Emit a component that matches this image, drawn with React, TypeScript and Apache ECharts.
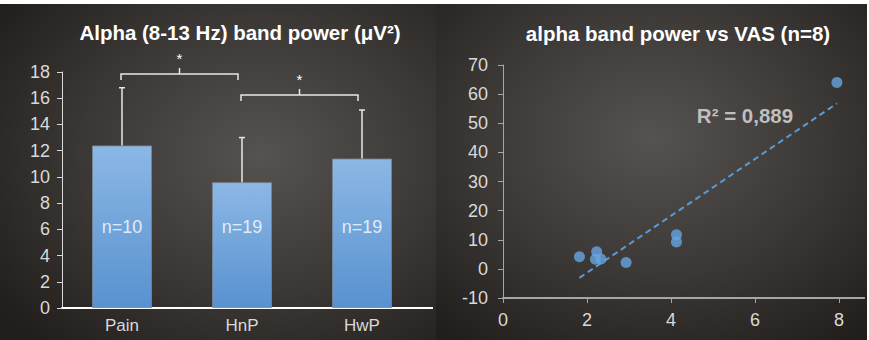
import React, { useEffect, useRef } from "react";
import * as echarts from "echarts";

const categories = ["Pain", "HnP", "HwP"];
const meanValues = [12.4, 9.6, 11.4];
const errorTops = [16.8, 13.0, 15.1];
const nLabels = ["n=10", "n=19", "n=19"];
const nLabelLevel = 6.2;
const sigBrackets = [
  { from: 0, to: 1, y: 17.85 },
  { from: 1, to: 2, y: 16.25 },
];

const scatterX = [7.95, 1.82, 2.23, 2.2, 2.33, 2.93, 4.13, 4.13];
const scatterY = [64, 4.2, 5.9, 3.3, 3.4, 2.2, 11.7, 9.2];
const r2Text = "R² = 0,889";

const FONT = "'Liberation Sans', Arial, sans-serif";

function regression(xs: number[], ys: number[]) {
  const n = xs.length;
  const mx = xs.reduce((a, b) => a + b, 0) / n;
  const my = ys.reduce((a, b) => a + b, 0) / n;
  let sxy = 0;
  let sxx = 0;
  for (let i = 0; i < n; i++) {
    sxy += (xs[i] - mx) * (ys[i] - my);
    sxx += (xs[i] - mx) * (xs[i] - mx);
  }
  const slope = sxy / sxx;
  const intercept = my - slope * mx;
  const x0 = Math.min(...xs);
  const x1 = Math.max(...xs);
  return [
    [x0, intercept + slope * x0],
    [x1, intercept + slope * x1],
  ];
}

export default function App() {
  const ref = useRef<HTMLDivElement>(null);
  useEffect(() => {
    document.body.style.margin = "0";
    const chart = echarts.init(ref.current!, null, { renderer: "svg" });
    const bg = (cx: number, cy: number) =>
      new echarts.graphic.RadialGradient(cx, cy, 0.75, [
        { offset: 0, color: "#56524f" },
        { offset: 0.55, color: "#3b3734" },
        { offset: 1, color: "#221e1b" },
      ]);
    const option: any = {
      animation: false,
      backgroundColor: "#ffffff",
      textStyle: { fontFamily: FONT },
      graphic: [
        { type: "rect", z: -10, shape: { x: 0, y: 4, width: 436, height: 336 }, style: { fill: bg(0.6, 0.45) } },
        { type: "rect", z: -10, shape: { x: 436, y: 4, width: 431, height: 336 }, style: { fill: bg(0.5, 0.4) } },
        { type: "line", z: 10, shape: { x1: 421, y1: 308, x2: 433, y2: 308 }, style: { stroke: "#ffffff", lineWidth: 2 } },
        {
          type: "text",
          z: 100,
          x: 745,
          y: 115,
          style: {
            text: r2Text,
            fill: "#bfbfbf",
            font: `bold 20.5px ${FONT}`,
            textAlign: "center",
            textVerticalAlign: "middle",
          },
        },
      ],
      title: [
        {
          text: "Alpha (8-13 Hz) band power (μV²)",
          left: 240,
          top: 22,
          padding: 0,
          textAlign: "center",
          textStyle: { color: "#ffffff", fontSize: 20.5, fontWeight: "bold", fontFamily: FONT },
        },
        {
          text: "alpha band power vs VAS (n=8)",
          left: 678,
          top: 23,
          padding: 0,
          textAlign: "center",
          textStyle: { color: "#ffffff", fontSize: 20.5, fontWeight: "bold", fontFamily: FONT },
        },
      ],
      grid: [
        { left: 62, top: 72, width: 360, bottom: 32 },
        { left: 503, top: 65, width: 361.2, bottom: 42 },
      ],
      xAxis: [
        {
          gridIndex: 0,
          type: "category",
          data: categories,
          axisLine: { lineStyle: { color: "#ffffff", width: 2 } },
          axisTick: { show: false },
          axisLabel: { color: "#d9d9d9", fontSize: 17, margin: 9, fontFamily: FONT },
        },
        {
          gridIndex: 1,
          type: "value",
          min: 0,
          max: 8.6,
          interval: 2,
          splitLine: { show: false },
          axisLine: { show: true, onZero: false, lineStyle: { color: "#a6a6a6", width: 2 } },
          axisTick: { show: true, length: 5, lineStyle: { color: "#a6a6a6" } },
          axisLabel: { color: "#d9d9d9", fontSize: 18, margin: 13, showMaxLabel: false, fontFamily: FONT },
        },
      ],
      yAxis: [
        {
          gridIndex: 0,
          type: "value",
          min: 0,
          max: 18,
          interval: 2,
          splitLine: { show: false },
          axisLine: { show: true, lineStyle: { color: "#d9d9d9", width: 1 } },
          axisTick: { show: true, length: 5, lineStyle: { color: "#d9d9d9" } },
          axisLabel: { color: "#d9d9d9", fontSize: 18, margin: 12, fontFamily: FONT },
        },
        {
          gridIndex: 1,
          type: "value",
          min: -10,
          max: 70,
          interval: 10,
          splitLine: { show: false },
          axisLine: { show: true, onZero: false, lineStyle: { color: "#a6a6a6", width: 1 } },
          axisTick: { show: true, length: 5, lineStyle: { color: "#a6a6a6" } },
          axisLabel: { color: "#d9d9d9", fontSize: 18, margin: 15, fontFamily: FONT },
        },
      ],
      series: [
        {
          type: "bar",
          xAxisIndex: 0,
          yAxisIndex: 0,
          barWidth: "50%",
          data: meanValues,
          itemStyle: {
            color: new echarts.graphic.LinearGradient(0, 0, 0, 1, [
              { offset: 0, color: "#8cb7e5" },
              { offset: 1, color: "#5892cf" },
            ]),
            borderColor: "rgba(120,135,150,0.8)",
            borderWidth: 1,
          },
        },
        {
          type: "custom",
          xAxisIndex: 0,
          yAxisIndex: 0,
          z: 5,
          data: meanValues.map((v, i) => [i, v, errorTops[i]]),
          renderItem: (params: any, api: any) => {
            const base = api.coord([api.value(0), api.value(1)]);
            const top = api.coord([api.value(0), api.value(2)]);
            const st = { stroke: "#e8e8e8", lineWidth: 1.5 };
            return {
              type: "group",
              children: [
                { type: "line", shape: { x1: base[0], y1: base[1], x2: top[0], y2: top[1] }, style: st },
                { type: "line", shape: { x1: top[0] - 3, y1: top[1], x2: top[0] + 3, y2: top[1] }, style: st },
              ],
            };
          },
        },
        {
          type: "custom",
          xAxisIndex: 0,
          yAxisIndex: 0,
          z: 5,
          data: sigBrackets.map((b) => [b.from, b.y, b.to]),
          renderItem: (params: any, api: any) => {
            const p1 = api.coord([api.value(0), api.value(1)]);
            const p2 = api.coord([api.value(2), api.value(1)]);
            const x1 = p1[0] - 1;
            const x2 = p2[0] - 4;
            const y = p1[1];
            const mid = (x1 + x2) / 2;
            const st = { stroke: "#e8e8e8", lineWidth: 1.5, fill: "none" };
            return {
              type: "group",
              children: [
                { type: "polyline", shape: { points: [[x1, y + 6], [x1, y], [x2, y], [x2, y + 6]] }, style: st },
                { type: "line", shape: { x1: mid, y1: y, x2: mid, y2: y - 6 }, style: st },
                {
                  type: "text",
                  x: mid,
                  y: y - 15,
                  style: {
                    text: "*",
                    fill: "#ffffff",
                    font: `15px ${FONT}`,
                    textAlign: "center",
                    textVerticalAlign: "middle",
                  },
                },
              ],
            };
          },
        },
        {
          type: "scatter",
          xAxisIndex: 0,
          yAxisIndex: 0,
          symbolSize: 0,
          z: 6,
          data: nLabels.map(() => nLabelLevel),
          label: {
            show: true,
            position: "inside",
            color: "#ffffff",
            fontSize: 18,
            fontFamily: FONT,
            formatter: (p: any) => nLabels[p.dataIndex],
          },
        },
        {
          type: "line",
          xAxisIndex: 1,
          yAxisIndex: 1,
          data: regression(scatterX, scatterY),
          symbol: "none",
          lineStyle: { color: "#5b9bd5", width: 2, type: [6, 4] },
          z: 3,
        },
        {
          type: "scatter",
          xAxisIndex: 1,
          yAxisIndex: 1,
          symbolSize: 11,
          data: scatterX.map((x, i) => [x, scatterY[i]]),
          itemStyle: { color: "#66a5e2" },
          z: 4,
        },
      ],
    };
    chart.setOption(option);
    return () => chart.dispose();
  }, []);
  return <div ref={ref} style={{ width: 869, height: 340 }} />;
}
